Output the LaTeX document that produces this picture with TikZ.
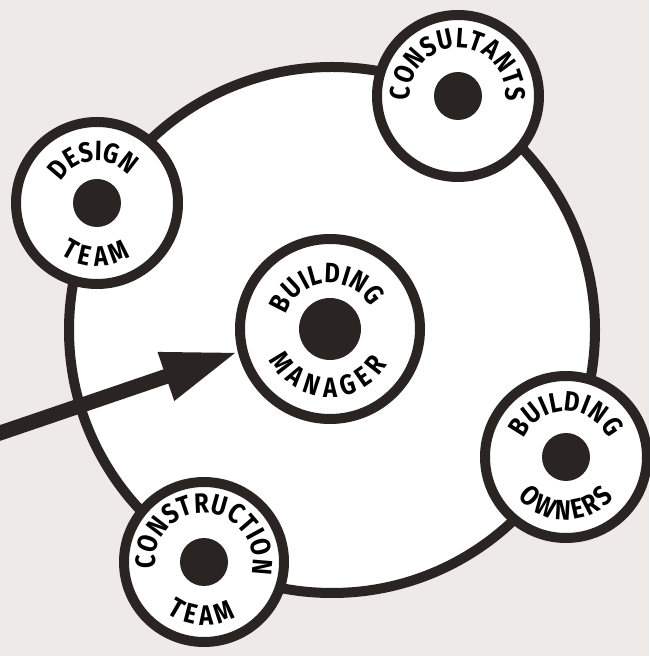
\documentclass[tikz,border=0pt]{standalone}
\usepackage{fontspec}
\newfontfamily\labfont{Fira Sans}[FakeStretch=0.85]
\usetikzlibrary{decorations.text,arrows.meta}
\definecolor{bg}{HTML}{EEEAE7}
\definecolor{ink}{HTML}{2A2422}
\newcommand\lab{\labfont\bfseries\fontsize{28pt}{28pt}\selectfont}
\begin{document}
\begin{tikzpicture}[x=1pt,y=1pt,
  ring/.style={circle,draw=ink,line width=10pt,fill=white,inner sep=0pt},
  hub/.style={circle,fill=ink,inner sep=0pt},
  arctext/.style={decorate,decoration={text along path,text align=fit to path,text={|\lab|#1}}},
  bigarrow/.style={draw=ink,line width=15pt,-{Triangle[length=76pt,width=47pt]}}]
\useasboundingbox (0,0) rectangle (649,656);
\fill[bg] (0,0) rectangle (649,656);
% big circle
\node[ring,minimum size=526pt] (big) at (332,326) {};
% building manager
\node[ring,minimum size=180pt] (bm) at (330,327) {};
\node[hub,minimum size=62pt] (bmdot) at (bm.center) {};
\path[arctext=BUILDING] ([shift={(162:46)}]bm.center) arc[start angle=162,end angle=28,radius=46];
\path[arctext=MANAGER] ([shift={(207:68)}]bm.center) arc[start angle=207,end angle=328,radius=68];
% arrow
\coordinate (start) at (-10,219.6);
\draw[bigarrow] (start) -- (bm.194);
% design team
\node[ring,minimum size=162pt] (dt) at (97,453) {};
\node[hub,minimum size=48pt] (dtdot) at (dt.center) {};
\path[arctext=DESIGN] ([shift={(150:42)}]dt.center) arc[start angle=150,end angle=44,radius=42];
\path[arctext=TEAM] ([shift={(235:63)}]dt.center) arc[start angle=235,end angle=302,radius=63];
% consultants
\node[ring,minimum size=162pt] (co) at (458,560) {};
\node[hub,minimum size=48pt] (codot) at (co.center) {};
\path[arctext=CONSULTANTS] ([shift={(185:48)}]co.center) arc[start angle=185,end angle=-6,radius=48];
% building owners
\node[ring,minimum size=162pt] (bo) at (566,199) {};
\node[hub,minimum size=48pt] (bodot) at (bo.center) {};
\path[arctext=BUILDING] ([shift={(157:46)}]bo.center) arc[start angle=157,end angle=24,radius=46];
\path[arctext=OWNERS] ([shift={(220:63)}]bo.center) arc[start angle=220,end angle=320,radius=63];
% construction team
\node[ring,minimum size=160pt] (ct) at (204,94) {};
\node[hub,minimum size=48pt] (ctdot) at (ct.center) {};
\path[arctext=CONSTRUCTION] ([shift={(188:49)}]ct.center) arc[start angle=188,end angle=-14,radius=49];
\path[arctext=TEAM] ([shift={(234:63)}]ct.center) arc[start angle=234,end angle=300,radius=63];
\end{tikzpicture}
\end{document}
